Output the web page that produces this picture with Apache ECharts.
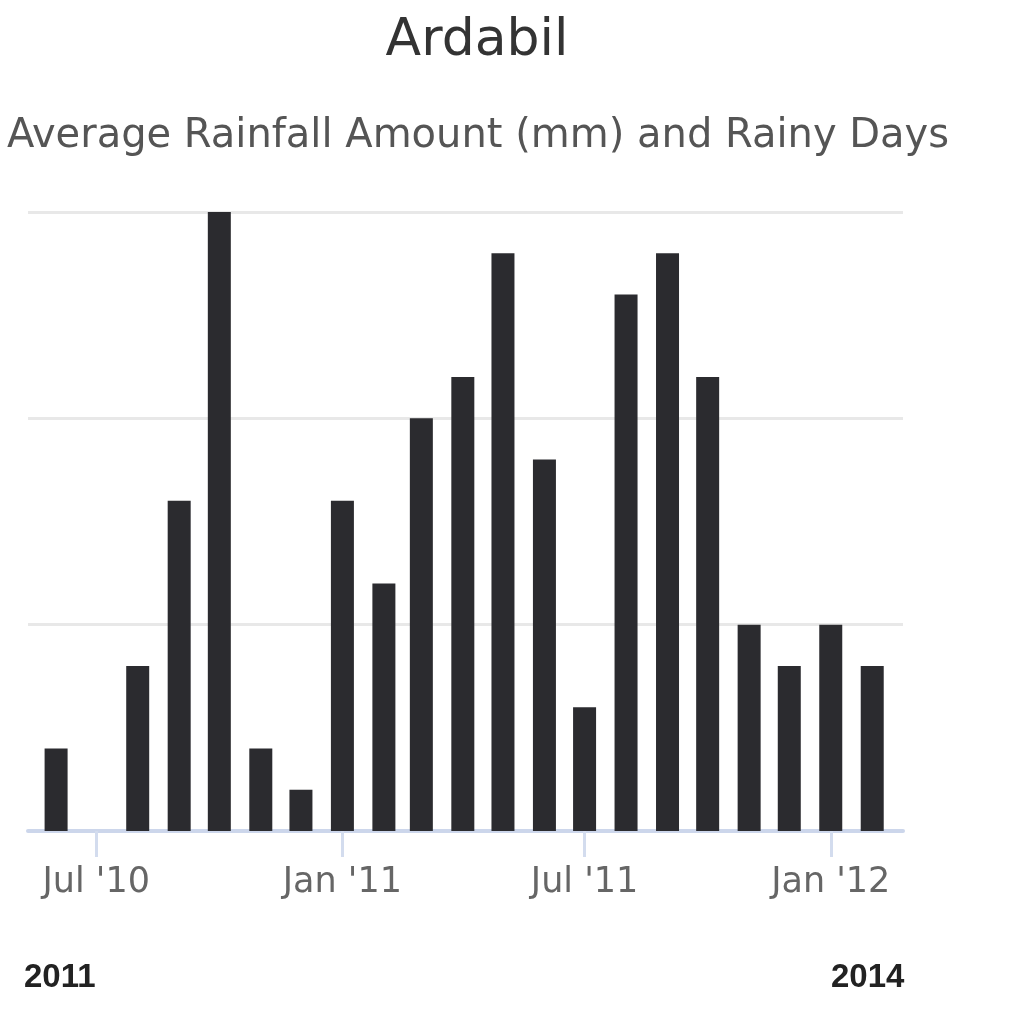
<!DOCTYPE html>
<html>
<head>
<meta charset="utf-8">
<script src="https://cdn.jsdelivr.net/npm/echarts@6/dist/echarts.min.js"></script>
<style>html,body{margin:0;padding:0;background:#fff;}#c{width:1024px;height:1024px;}</style>
</head>
<body>
<div id="c"></div>
<script>
var months = ['2010-06-01','2010-07-01','2010-08-01','2010-09-01','2010-10-01','2010-11-01','2010-12-01',
              '2011-01-01','2011-02-01','2011-03-01','2011-04-01','2011-05-01','2011-06-01','2011-07-01',
              '2011-08-01','2011-09-01','2011-10-01','2011-11-01','2011-12-01','2012-01-01','2012-02-01'];
var rainyDays = [2,0,4,8,15,2,1,8,6,10,11,14,9,3,13,14,11,5,4,5,4];
var tickDates = ['2010-07-01','2011-01-01','2011-07-01','2012-01-01'];
var tickLabels = ["Jul '10","Jan '11","Jul '11","Jan '12"];
var axisStart = '2010-05-11';
var axisEnd = '2012-02-24';
var yTicks = [0,5,10,15];

// day number (UTC) of each date, used as x value
function dayNum(s){ var p = s.split('-'); return Math.round(Date.UTC(+p[0], +p[1]-1, +p[2]) / 86400000); }
var tickX = tickDates.map(dayNum);
var seriesData = months.map(function(m,i){ return [dayNum(m), rainyDays[i]]; });

var chart = echarts.init(document.getElementById('c'));
var font = 'DejaVu Sans';
chart.setOption({
  animation: false,
  backgroundColor: '#fff',
  title: [
    {text:'Ardabil', left:472, top:10, textAlign:'center',
     textStyle:{fontFamily:font, fontSize:52, fontWeight:'normal', color:'#333'}},
    {text:'Average Rainfall Amount (mm) and Rainy Days', left:473, top:112, textAlign:'center',
     textStyle:{fontFamily:font, fontSize:40, fontWeight:'normal', color:'#555'}},
    {text:'2011', left:19, top:956,
     textStyle:{fontFamily:'Liberation Sans', fontSize:33, fontWeight:'bold', color:'#222'}},
    {text:'2014', left:826, top:956,
     textStyle:{fontFamily:'Liberation Sans', fontSize:33, fontWeight:'bold', color:'#222'}}
  ],
  grid: {left:28, right:121, top:212, bottom:193},
  xAxis: {
    type:'value',
    min: dayNum(axisStart), max: dayNum(axisEnd),
    axisLine:{show:true, lineStyle:{color:'#ccd6eb', width:4}},
    axisTick:{show:true, customValues: tickX, length:26, lineStyle:{color:'#d3dcee', width:3}},
    axisLabel:{show:true, customValues: tickX, margin:34, color:'#666', fontFamily:font, fontSize:35,
      formatter:function(v){ var i = tickX.indexOf(v); return i>=0 ? tickLabels[i] : ''; }},
    splitLine:{show:false}
  },
  yAxis: {
    type:'value', min:yTicks[0], max:yTicks[yTicks.length-1], interval:5,
    axisLine:{show:false}, axisTick:{show:false}, axisLabel:{show:false},
    splitLine:{show:true, lineStyle:{color:'#e8e8e8', width:3}}
  },
  series: [{
    type:'bar', name:'Rainy Days', data: seriesData, barWidth:23,
    itemStyle:{color:'#2b2b2f', borderWidth:0}
  }]
});
</script>
</body>
</html>
